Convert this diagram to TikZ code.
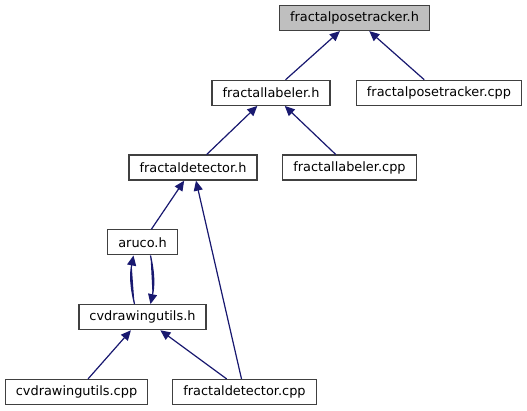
\documentclass[tikz,border=0pt]{standalone}
\usepackage{fontspec}
\setmainfont{DejaVu Sans}
\usepackage{tikz}
\usetikzlibrary{arrows.meta, positioning}

\definecolor{linkblue}{RGB}{25,25,112}
\definecolor{curgray}{RGB}{191,191,191}

\begin{document}
\begin{tikzpicture}[node distance=74.8pt,
    file/.style={draw=black!75, line width=1.2pt, rectangle, minimum height=25pt, inner xsep=10.5pt, font=\fontsize{12.9}{15}\selectfont},
    incl/.style={-{Triangle[length=10pt,width=9pt]}, draw=linkblue, fill=linkblue, line width=1.2pt}]
    \useasboundingbox (0pt,0pt) rectangle (527pt,-411pt);

    \node (ptH) [file, fill=curgray] at (354.5pt,-18pt) {fractalposetracker.h};
    \node (labH) [file, below of=ptH, xshift=-83.5pt] {fractallabeler.h};
    \node (ptCpp) [file, below of=ptH, xshift=84.5pt] {fractalposetracker.cpp};
    \node (detH) [file, below of=labH, xshift=-78pt] {fractaldetector.h};
    \node (labCpp) [file, below of=labH, xshift=78.5pt] {fractallabeler.cpp};
    \node (aruco) [file, below of=detH, xshift=-50.5pt] {aruco.h};
    \node (cvH) [file, below of=aruco] {cvdrawingutils.h};
    \node (cvCpp) [file, below of=cvH, xshift=-66pt] {cvdrawingutils.cpp};
    \node (detCpp) [file, below of=cvH, xshift=102pt] {fractaldetector.cpp};

    \draw [incl] (labH) -- (ptH);
    \draw [incl] (ptCpp) -- (ptH);
    \draw [incl] (detH) -- (labH);
    \draw [incl] (labCpp) -- (labH);
    \draw [incl] (aruco) -- (detH);
    \draw [incl] (detCpp) -- (detH);
    \draw [incl] ([xshift=-8pt]cvH.north) to[bend left=12] ([xshift=-9pt]aruco.south);
    \draw [incl] ([xshift=8pt]aruco.south) to[bend left=12] ([xshift=8pt]cvH.north);
    \draw [incl] (cvCpp) -- (cvH);
    \draw [incl] (detCpp) -- (cvH);
\end{tikzpicture}
\end{document}
